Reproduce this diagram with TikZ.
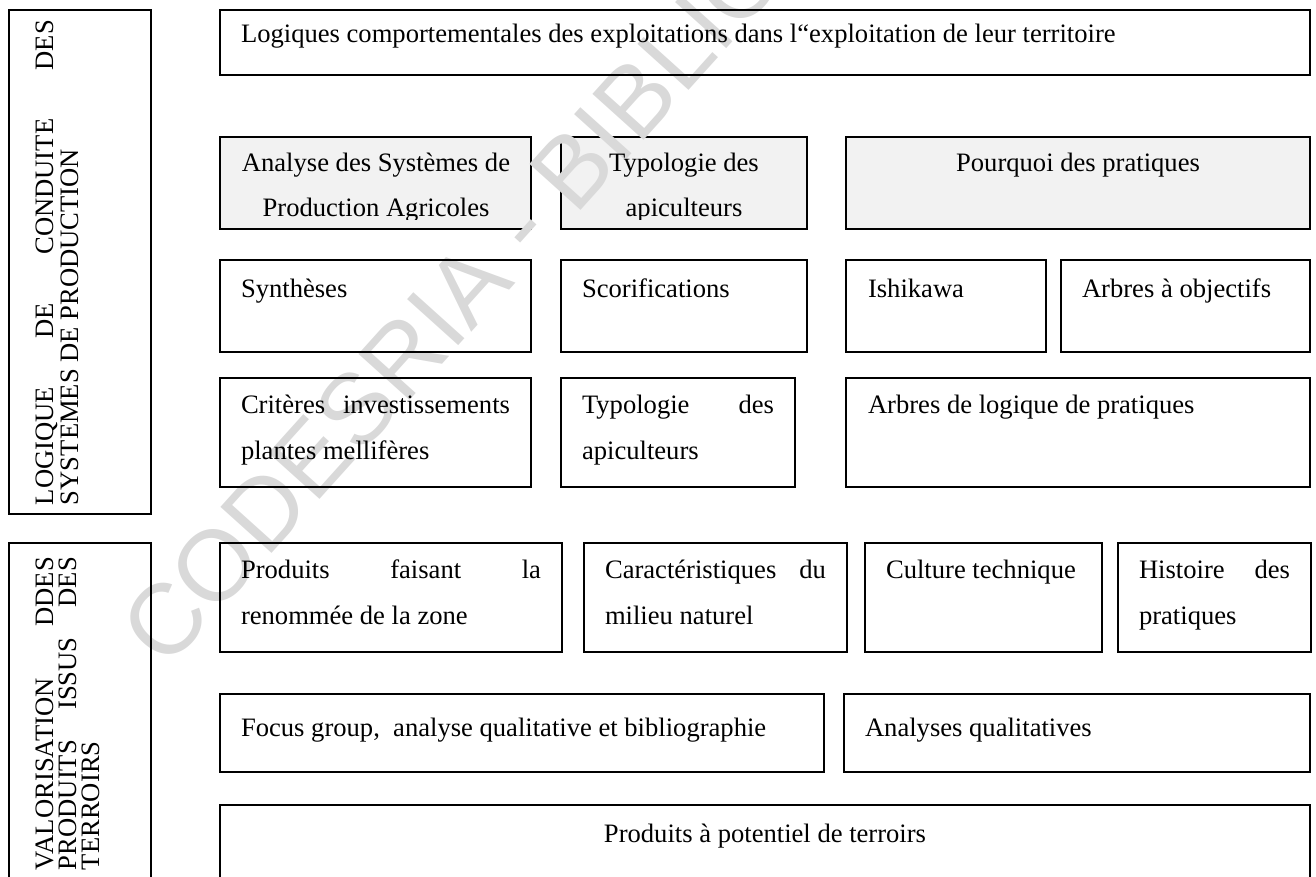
\documentclass[tikz,border=0pt]{standalone}
\usepackage{fontspec}
\setmainfont{Liberation Serif}
\newfontfamily\wmfont{Liberation Sans}
\definecolor{boxgray}{HTML}{F2F2F2}
\definecolor{wmgray}{HTML}{D9D9D9}
\newcommand\bx[6][box]{\node[#1, minimum width={(#5-#3)*0.5pt}, minimum height={(#6-#4)*0.5pt}] (#2) at (#3,#4) {};}
\begin{document}
\begin{tikzpicture}[x=0.5pt,y=-0.5pt,
  box/.style={draw=black, line width=0.75pt, inner sep=0pt, outer sep=0pt, anchor=north west},
  gbox/.style={box, fill=boxgray},
  txt/.style={inner sep=0pt, outer sep=0pt, font=\fontsize{13.3pt}{23pt}\selectfont, anchor=base west},
  ctxt/.style={txt, anchor=base},
  vtxt/.style={txt, rotate=90},
  wm/.style={inner sep=0pt, text=wmgray, font=\wmfont\fontsize{50pt}{56pt}\selectfont, rotate=48, anchor=base west}]
\useasboundingbox (0,0) rectangle (1316,877);
\clip (0,0) rectangle (1316,877);
% gray boxes
\bx[gbox]{ga}{220}{137}{531}{229}
\bx[gbox]{gb}{561}{137}{807}{229}
\bx[gbox]{gc}{846}{137}{1310}{229}
% watermark
\node[wm] (wm) at (166,671) {CODESRIA - BIBLIOTHEQUE};
% left boxes
\bx{la}{9}{10}{151}{514}
\bx{lb}{9}{543}{151}{900}
% right boxes
\bx{top}{220}{10}{1310}{75}
\bx{r3a}{220}{260}{531}{352}
\bx{r3b}{561}{260}{807}{352}
\bx{r3c}{846}{260}{1046}{352}
\bx{r3d}{1061}{260}{1310}{352}
\bx{r4a}{220}{378}{531}{487}
\bx{r4b}{561}{378}{795}{487}
\bx{r4c}{846}{378}{1310}{487}
\bx{r5a}{220}{543}{562}{652}
\bx{r5b}{584}{543}{847}{652}
\bx{r5c}{865}{543}{1102}{652}
\bx{r5d}{1118}{543}{1311}{652}
\bx{r6a}{220}{694}{824}{772}
\bx{r6b}{844}{694}{1310}{772}
\bx{r7}{220}{805}{1310}{900}
% left texts
\node[vtxt] (la1) at (54,505) {\makebox[242.5pt]{LOGIQUE\hfill DE\hfill CONDUITE\hfill DES}};
\node[vtxt] (la2) at (78,505) {SYSTEMES DE PRODUCTION};
\node[vtxt] (lb1) at (53,870) {\makebox[156.5pt]{VALORISATION\hfill DDES}};
\node[vtxt] (lb2) at (76,870) {\makebox[156.5pt]{PRODUITS\hfill ISSUS\hfill DES}};
\node[vtxt] (lb3) at (99,870) {TERROIRS};
% top
\node[txt] (tt) at (241,43) {Logiques comportementales des exploitations dans l“exploitation de leur territoire};
% row 2
\begin{scope}
\clip (220,137) rectangle (1310,219.5);
\node[ctxt] (ga1) at (376,172) {Analyse des Systèmes de};
\node[ctxt] (ga2) at (376,217) {Production Agricoles};
\node[ctxt] (gb1) at (684,172) {Typologie des};
\node[ctxt] (gb2) at (684,217) {apiculteurs};
\end{scope}
\node[ctxt] (gc1) at (1078,172) {Pourquoi des pratiques};
% row 3
\node[txt] (t3a) at (241,297) {Synthèses};
\node[txt] (t3b) at (582,297) {Scorifications};
\node[txt] (t3c) at (868,297) {Ishikawa};
\node[txt] (t3d) at (1082,297) {Arbres à objectifs};
% row 4
\node[txt] (t4a1) at (241,413) {\makebox[134.5pt]{Critères\hfill investissements}};
\node[txt] (t4a2) at (241,459) {plantes mellifères};
\node[txt] (t4b1) at (582,413) {\makebox[96pt]{Typologie\hfill des}};
\node[txt] (t4b2) at (582,459) {apiculteurs};
\node[txt] (t4c) at (868,413) {Arbres de logique de pratiques};
% row 5
\node[txt] (t5a1) at (241,578) {\makebox[150pt]{Produits\hfill faisant\hfill la}};
\node[txt] (t5a2) at (241,624) {renommée de la zone};
\node[txt] (t5b1) at (605,578) {\makebox[110.5pt]{Caractéristiques\hfill du}};
\node[txt] (t5b2) at (605,624) {milieu naturel};
\node[txt] (t5c) at (886,578) {Culture technique};
\node[txt] (t5d1) at (1139,578) {\makebox[75.5pt]{Histoire\hfill des}};
\node[txt] (t5d2) at (1139,624) {pratiques};
% row 6
\node[txt] (t6a) at (241,736) {Focus group,\ \ analyse qualitative et bibliographie};
\node[txt] (t6b) at (865,736) {Analyses qualitatives};
% row 7
\node[ctxt] (t7) at (765,842) {Produits à potentiel de terroirs};
\end{tikzpicture}
\end{document}
